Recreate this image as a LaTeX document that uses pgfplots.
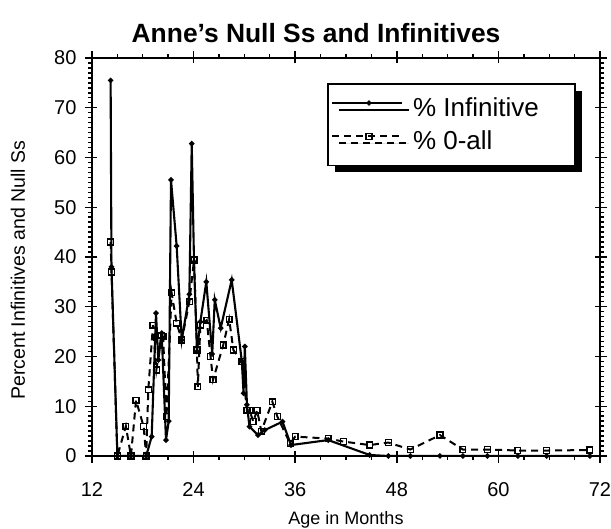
\documentclass[border=0pt]{standalone}
\usepackage{fontspec}
\setmainfont{Liberation Sans}
\usepackage{pgfplots}
\pgfplotsset{compat=1.18}
\usetikzlibrary{shadows}
\begin{document}
\begin{tikzpicture}
\begin{axis}[
  scale only axis,
  width=508pt, height=398pt,
  xmin=12, xmax=72, ymin=0, ymax=80,
  xtick={12,24,...,72}, ytick={0,10,...,80},
  minor x tick num=3, minor y tick num=9,
  tick align=outside,
  major tick length=7pt, minor tick length=4pt,
  every tick/.style={line width=1.4pt, black},
  axis line style={line width=2.4pt},
  xtick pos=both, ytick pos=both,
  extra x ticks={12,24,...,72}, extra y ticks={0,10,...,80},
  extra x tick labels={}, extra y tick labels={},
  extra tick style={tick align=inside, major tick length=5pt},
  /pgf/number format/assume math mode=true,
  ticklabel style={font=\fontsize{20}{24}\selectfont},
  xticklabel style={yshift=-16pt},
  yticklabel style={xshift=-5pt},
  title={\bfseries Anne's Null Ss and Infinitives},
  title style={font=\fontsize{26.4}{30}\selectfont, at={(axis description cs:0.441,1.0477)}, anchor=center},
  xlabel={Age in Months},
  ylabel={Percent Infinitives and Null Ss},
  xlabel style={font=\fontsize{18}{21}\selectfont, at={(axis description cs:0.5,-0.1608)}, anchor=center},
  ylabel style={font=\fontsize{19.5}{22}\selectfont, at={(axis description cs:-0.1457,0.467)}, anchor=center, rotate=0},
  legend style={at={(0.463,0.937)}, anchor=north west, draw=black, line width=1.5pt,
    fill=white, font=\fontsize{26}{30}\selectfont,
    drop shadow={shadow xshift=7pt, shadow yshift=-7pt, fill=black, opacity=1},
    inner xsep=3pt, inner ysep=12pt, row sep=9pt, legend cell align=left},
  legend image code/.code={
    \draw[#1, mark=none] (0pt,5pt) -- (70pt,5pt);
    \draw[#1, solid] plot coordinates {(37pt,5pt)};
  },
]
\addplot[black, line width=2.1pt, mark=*, mark size=1.5pt] coordinates {
(14.2,75.5) (14.3,38) (15.0,0) (16.6,0) (18.4,0) (19.05,3.9) (19.56,28.7) (19.83,19.3)
(20.23,24.7) (20.74,3.2) (21.06,7) (21.33,55.5) (22.0,42.2) (22.6,23.3) (23.5,32.5)
(23.78,62.8) (24.05,39) (24.4,21) (24.8,27) (25.5,35) (26.2,20.5) (26.5,31.4)
(27.2,25.7) (28.5,35.4) (29.7,19) (29.9,12.6) (30.05,22) (30.3,10.3) (30.6,5.9)
(31.6,4.2) (32.4,5.2) (34.5,6.9) (35.5,2.2) (39.9,3.2) (44.8,0.2) (47.0,0) (49.6,0)
(53.1,0) (55.8,0) (58.7,0) (62.3,0) (65.7,0) (70.8,0)
};
\addlegendentry{\hspace*{8pt}\% Infinitive\rule{31pt}{0pt}}
\addplot[black, line width=2pt, dash pattern=on 7pt off 5pt, mark=square, mark size=2.9pt,
  mark options={solid, line width=1.4pt, fill=white}] coordinates {
(14.2,43) (14.3,37) (15.0,0) (16.0,6) (16.6,0) (17.2,11.2) (18.1,5.9) (18.4,0) (18.65,13.3)
(19.2,26.3) (19.6,17.3) (20.2,24.3) (20.4,24) (20.8,7.9) (21.4,32.8) (22.0,26.7)
(22.6,23.3) (23.5,31) (24.05,39.4) (24.4,21.3) (24.5,13.9) (24.8,26.3) (25.55,27.3)
(26.0,20) (26.3,15.3) (27.5,22.3) (28.2,27.5) (28.7,21.3) (29.7,19) (30.3,9.2)
(30.6,9.2) (31.05,6.9) (31.5,9.2) (32.0,5) (33.3,10.9) (33.9,7.9) (35.4,2.5) (36.0,3.9)
(39.9,3.5) (41.7,2.9) (44.8,2.2) (47.0,2.7) (49.6,1.3) (53.1,4.2) (55.8,1.3) (58.7,1.3)
(62.3,1.1) (65.7,1.1) (70.8,1.2)
};
\addlegendentry{\hspace*{8pt}\% 0-all}
\end{axis}
\pgfresetboundingbox
\path ([xshift=-92pt,yshift=-73pt]current axis.south west) rectangle ([xshift=11pt,yshift=58pt]current axis.north east);
\end{tikzpicture}
\end{document}
